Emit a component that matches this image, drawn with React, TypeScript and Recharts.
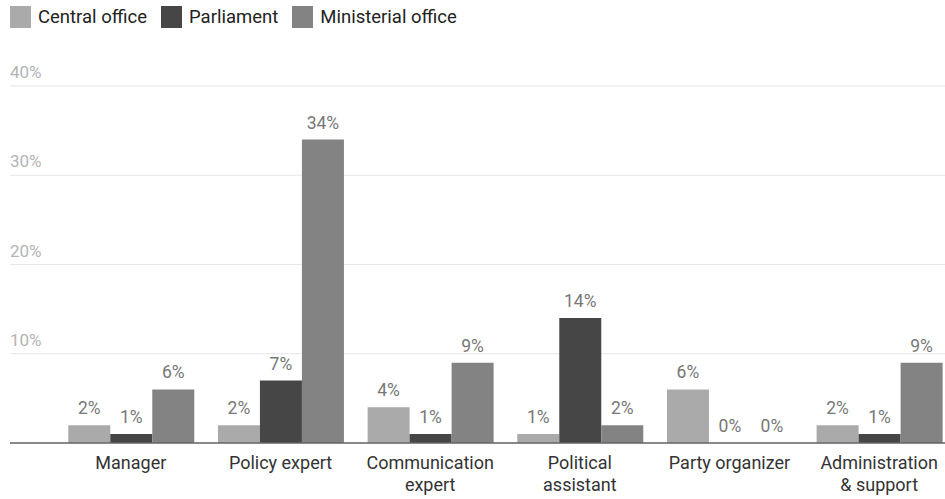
import { BarChart, Bar, XAxis, YAxis, CartesianGrid, LabelList } from "recharts";

const CATEGORIES = [
  "Manager",
  "Policy expert",
  "Communication\nexpert",
  "Political\nassistant",
  "Party organizer",
  "Administration\n& support",
];
const CENTRAL_OFFICE = [2, 2, 4, 1, 6, 2];
const PARLIAMENT = [1, 7, 1, 14, 0, 1];
const MINISTERIAL_OFFICE = [6, 34, 9, 2, 0, 9];
const Y_TICKS = [0, 10, 20, 30, 40];

const SERIES = [
  { key: "central", name: "Central office", values: CENTRAL_OFFICE, color: "#aaaaaa" },
  { key: "parliament", name: "Parliament", values: PARLIAMENT, color: "#464646" },
  { key: "ministerial", name: "Ministerial office", values: MINISTERIAL_OFFICE, color: "#838383" },
];

const data = CATEGORIES.map((cat, i) => {
  const row: Record<string, string | number> = { cat };
  SERIES.forEach((s) => (row[s.key] = s.values[i]));
  return row;
});

const FONT = "Roboto, sans-serif";

function CategoryTick({ x, y, payload }: any) {
  const lines = String(payload.value).split("\n");
  return (
    <text x={x} y={y + 18} textAnchor="middle" fill="#333" fontSize={18} fontFamily={FONT}>
      {lines.map((line, i) => (
        <tspan key={i} x={x} dy={i === 0 ? 0 : 22}>
          {line}
        </tspan>
      ))}
    </text>
  );
}

const percentTick = ({ y, payload }: any) => {
  if (payload.value === 0) return <g />;
  return (
    <text x={10} y={y - 8} textAnchor="start" fill="#b4b4b4" fontSize={17} fontFamily={FONT}>
      {payload.value}%
    </text>
  );
};

// zero values still need a rendered bar so the "0%" label shows
const minSize = (v: number) => (v === 0 ? 0.01 : 0);

export default function App() {
  return (
    <div
      style={{
        position: "absolute",
        left: 0,
        top: 0,
        width: 945,
        height: 499,
        overflow: "hidden",
        background: "#fff",
        fontFamily: FONT,
      }}
    >
      <div style={{ position: "absolute", left: 10, top: 6, display: "flex", alignItems: "center" }}>
        {SERIES.map((s) => (
          <div key={s.key} style={{ display: "flex", alignItems: "center", marginRight: 14 }}>
            <span style={{ width: 21, height: 22, background: s.color, display: "inline-block", marginRight: 7 }} />
            <span style={{ fontSize: 18.5, color: "#222" }}>{s.name}</span>
          </div>
        ))}
      </div>
      <BarChart
        width={954}
        height={499}
        data={data}
        margin={{ top: 86, right: 0, left: 0, bottom: 0 }}
        barCategoryGap="8.2%"
        barGap={0}
      >
        <CartesianGrid horizontal vertical={false} stroke="#e6e6e6" />
        <YAxis
          domain={[0, 40]}
          ticks={Y_TICKS}
          width={10}
          interval={0}
          axisLine={false}
          tickLine={false}
          tick={percentTick}
        />
        <XAxis
          dataKey="cat"
          height={56}
          interval={0}
          padding={{ left: 46, right: 0 }}
          axisLine={{ stroke: "#666", strokeWidth: 1.5 }}
          tickLine={false}
          tick={<CategoryTick />}
        />
        {SERIES.map((s) => (
          <Bar
            key={s.key}
            dataKey={s.key}
            name={s.name}
            fill={s.color}
            minPointSize={minSize}
            isAnimationActive={false}
          >
            <LabelList
              dataKey={s.key}
              position="top"
              offset={11}
              formatter={(v: any) => `${v}%`}
              fill="#777"
              fontSize={17.5}
              fontFamily={FONT}
            />
          </Bar>
        ))}
      </BarChart>
    </div>
  );
}
